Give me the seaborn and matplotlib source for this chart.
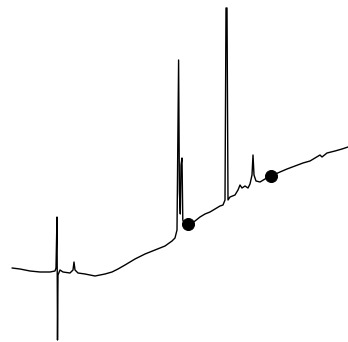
import matplotlib
matplotlib.use("Agg")
import matplotlib.pyplot as plt
import seaborn as sns
import pandas as pd

sns.set_style("white")

# chromatogram trace (time, detector response)
time = [12, 20, 30, 40, 50, 55, 56, 57, 57.5, 58, 60, 63, 70, 73, 74, 75, 78, 85,
        95, 105, 112, 118, 125, 135, 145, 155, 165, 172, 175, 177, 178.6, 179.4,
        180.3, 181, 182, 182.8, 184, 186, 190, 195, 200, 205, 210, 215, 220, 223,
        225, 226, 227, 228, 230, 235, 238, 240, 242, 245, 248, 250, 252, 253, 254,
        256, 260, 265, 271, 280, 287, 295, 303, 310, 315, 320, 322, 327, 335, 342, 348]
response = [74, 73, 71, 70, 70, 71, 74, 125, 2, 67, 72, 70, 69, 72, 80, 72, 69, 68,
            66, 68, 70, 73, 77, 83, 88, 92, 96, 101, 104, 112, 282, 150,
            128, 177, 184, 122, 119, 118, 117, 121, 125, 128, 130, 133, 136, 137,
            142, 334, 334, 142, 145, 147, 152, 157, 154, 156, 154, 158, 167, 187, 167,
            161, 160, 163, 166, 170, 173, 176, 179, 181, 184, 187, 185, 189, 191, 193, 195]

# marked points on the trace
mark_time = [188, 271]
mark_response = [118, 166]

trace = pd.DataFrame({'time': time, 'response': response})
marks = pd.DataFrame({'time': mark_time, 'response': mark_response})

fig = plt.figure(figsize=(3.48, 3.42), dpi=100)
ax = fig.add_axes([0, 0, 1, 1])
sns.lineplot(data=trace, x='time', y='response', sort=False, estimator=None,
             color='black', linewidth=1.0, ax=ax)
sns.scatterplot(data=marks, x='time', y='response', s=75, color='black',
                edgecolor='black', zorder=3, ax=ax)
ax.set_xlim(0, 348)
ax.set_ylim(0, 342)
ax.axis('off')
fig.savefig('out.png', dpi=100, facecolor='white')
